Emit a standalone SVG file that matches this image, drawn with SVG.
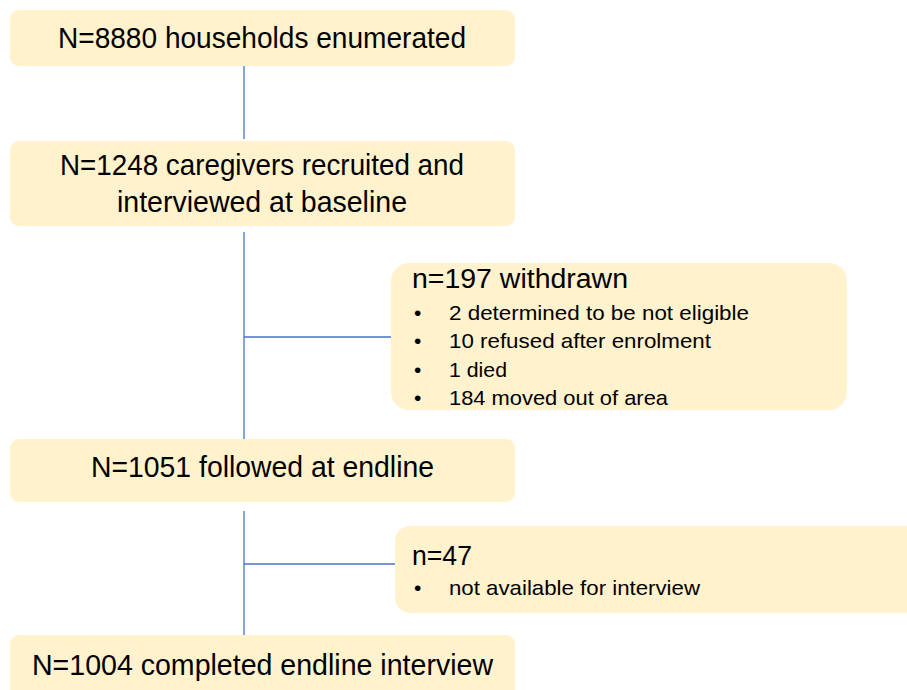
<svg xmlns="http://www.w3.org/2000/svg" width="907" height="690" viewBox="0 0 907 690">
<style>
.box{fill:#FFF2CC;stroke:none}
.t{font-family:"Liberation Sans",Arial,sans-serif;fill:#000}
.main{font-size:29px}
.head{font-size:27px}
.bul{font-size:21px}
.conn line{stroke:#4472C4;stroke-width:1.3}
</style>
<rect width="907" height="690" fill="#fff"/>
<g id="connectors" class="conn">
<line x1="244" y1="66" x2="244" y2="139"/>
<line x1="244" y1="232" x2="244" y2="440"/>
<line x1="244" y1="337" x2="392" y2="337"/>
<line x1="244" y1="511" x2="244" y2="635"/>
<line x1="244" y1="564" x2="395" y2="564"/>
</g>
<g id="n1">
<rect class="box" x="10" y="10" width="505" height="56" rx="9"/>
<text class="t main" x="58" y="48" textLength="408" lengthAdjust="spacingAndGlyphs">N=8880 households enumerated</text>
</g>
<g id="n2">
<rect class="box" x="10" y="141" width="505" height="85" rx="9"/>
<text class="t main" x="60" y="175" textLength="404" lengthAdjust="spacingAndGlyphs">N=1248 caregivers recruited and</text>
<text class="t main" x="117" y="212" textLength="290" lengthAdjust="spacingAndGlyphs">interviewed at baseline</text>
</g>
<g id="n3">
<rect class="box" x="391" y="263" width="456" height="147" rx="18"/>
<text class="t head" x="412" y="288" textLength="216" lengthAdjust="spacingAndGlyphs">n=197 withdrawn</text>
<text class="t bul" x="414" y="320">•</text>
<text class="t bul" x="449" y="320" textLength="300" lengthAdjust="spacingAndGlyphs">2 determined to be not eligible</text>
<text class="t bul" x="414" y="348">•</text>
<text class="t bul" x="449" y="348" textLength="262" lengthAdjust="spacingAndGlyphs">10 refused after enrolment</text>
<text class="t bul" x="414" y="377">•</text>
<text class="t bul" x="449" y="377" textLength="58" lengthAdjust="spacingAndGlyphs">1 died</text>
<text class="t bul" x="414" y="405">•</text>
<text class="t bul" x="449" y="405" textLength="219" lengthAdjust="spacingAndGlyphs">184 moved out of area</text>
</g>
<g id="n4">
<rect class="box" x="10" y="439" width="505" height="63" rx="9"/>
<text class="t main" x="91" y="477" textLength="343" lengthAdjust="spacingAndGlyphs">N=1051 followed at endline</text>
</g>
<g id="n5">
<rect class="box" x="395" y="526" width="530" height="87" rx="15"/>
<text class="t head" x="412" y="565" textLength="60" lengthAdjust="spacingAndGlyphs">n=47</text>
<text class="t bul" x="414" y="595">•</text>
<text class="t bul" x="449" y="595" textLength="251" lengthAdjust="spacingAndGlyphs">not available for interview</text>
</g>
<g id="n6">
<rect class="box" x="10" y="635" width="505" height="75" rx="9"/>
<text class="t main" x="32" y="675" textLength="461" lengthAdjust="spacingAndGlyphs">N=1004 completed endline interview</text>
</g>
</svg>
